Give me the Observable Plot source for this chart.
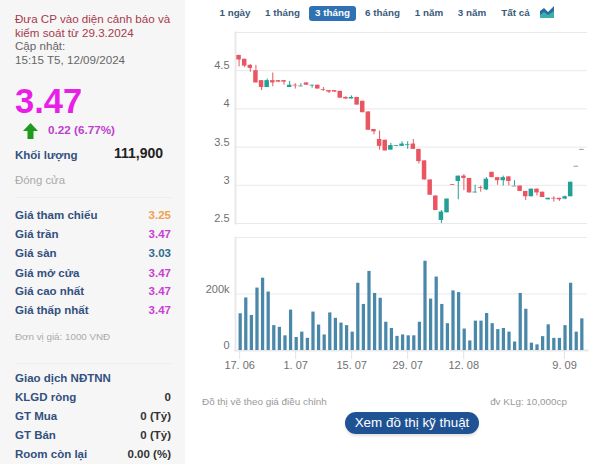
<!DOCTYPE html>
<html><head><meta charset="utf-8">
<script src="https://cdn.jsdelivr.net/npm/d3@7"></script>
<script src="https://cdn.jsdelivr.net/npm/@observablehq/plot@0.6"></script>
<style>
html,body{margin:0;padding:0;background:#fff;width:600px;height:471px;overflow:hidden;font-family:"Liberation Sans",Arial,sans-serif}
#page{position:relative;width:600px;height:471px}
#page svg.plot,#page>svg{position:absolute;left:0;top:0;background:transparent}
.t{position:absolute;white-space:nowrap;line-height:14px;transform:translateY(-50%)}
.r{transform:translate(-100%,-50%)}
#side{position:absolute;left:0;top:0;width:185px;height:464px;background:#f6f6f6}
.hr{position:absolute;left:15px;width:157px;height:1px;background:#eeeeee}
</style></head><body><div id="page"><div id="side"></div></div>
<script>
const dates=["17. 06","18. 06","19. 06","20. 06","21. 06","24. 06","25. 06","26. 06","27. 06","28. 06",
"1. 07","2. 07","3. 07","4. 07","5. 07","8. 07","9. 07","10. 07","11. 07","12. 07",
"15. 07","16. 07","17. 07","18. 07","19. 07","22. 07","23. 07","24. 07","25. 07","26. 07",
"29. 07","30. 07","31. 07","1. 08","2. 08","5. 08","6. 08","7. 08","8. 08","9. 08",
"12. 08","13. 08","14. 08","15. 08","16. 08","19. 08","20. 08","21. 08","22. 08","23. 08",
"26. 08","27. 08","28. 08","29. 08","30. 08","4. 09","5. 09","6. 09","9. 09","10. 09","11. 09","12. 09"];
const opens=[4.70,4.65,4.57,4.50,4.37,4.28,4.37,4.37,4.37,4.28,4.31,4.30,4.34,4.30,4.31,4.25,4.24,4.24,4.23,4.15,4.13,4.15,4.10,3.96,3.73,3.60,3.59,3.46,3.51,3.51,3.52,3.54,3.47,3.32,3.07,2.86,2.54,2.64,3.01,3.05,3.12,3.09,2.90,2.97,2.94,3.17,3.10,3.06,3.11,2.99,2.99,2.92,2.85,2.95,2.91,2.81,2.83,2.83,2.82,2.85,3.25,3.47];
const closes=[4.64,4.56,4.53,4.34,4.28,4.37,4.34,4.35,4.35,4.31,4.30,4.30,4.31,4.31,4.26,4.24,4.22,4.22,4.14,4.13,4.15,4.05,3.95,3.72,3.70,3.51,3.45,3.52,3.52,3.54,3.53,3.47,3.31,3.07,2.87,2.67,2.65,2.82,3.00,3.12,3.09,2.90,2.91,2.96,3.08,3.10,3.06,3.10,3.05,2.99,2.92,2.85,2.95,2.90,2.84,2.83,2.82,2.81,2.85,3.04,3.25,3.47];
const highs=[4.70,4.65,4.58,4.57,4.37,4.39,4.47,4.37,4.37,4.36,4.33,4.33,4.34,4.31,4.31,4.28,4.24,4.24,4.23,4.16,4.17,4.15,4.10,3.96,3.73,3.71,3.59,3.55,3.52,3.57,3.57,3.60,3.47,3.32,3.07,2.86,2.67,2.82,3.01,3.12,3.14,3.09,3.00,2.99,3.10,3.17,3.10,3.12,3.11,3.06,2.99,2.92,2.95,2.95,2.91,2.83,2.85,2.83,2.86,3.04,3.25,3.47];
const lows=[4.55,4.54,4.48,4.34,4.24,4.28,4.29,4.35,4.31,4.28,4.26,4.29,4.31,4.27,4.26,4.23,4.20,4.22,4.14,4.12,4.13,4.05,3.95,3.72,3.66,3.46,3.45,3.46,3.51,3.51,3.47,3.47,3.28,3.07,2.87,2.67,2.50,2.64,3.00,2.81,2.93,2.90,2.90,2.91,2.93,3.10,3.00,2.99,2.99,2.99,2.92,2.80,2.85,2.86,2.84,2.81,2.78,2.79,2.81,2.85,3.25,3.47];
const volumes=[130,186,124,221,256,207,88,82,52,143,46,65,43,136,90,55,133,114,97,88,65,238,163,280,202,185,100,78,50,55,52,52,100,316,182,260,163,95,211,205,76,34,104,104,131,95,74,78,65,30,202,146,26,20,49,91,43,43,88,238,65,112];
const xTicks=["17. 06","1. 07","15. 07","29. 07","12. 08","9. 09"];
const priceTicks=[2.5,3,3.5,4,4.5];
const volumeTicks=[0,200000];
const ranges=["1 ngày","1 tháng","3 tháng","6 tháng","1 năm","3 năm","Tất cả"];
const rangeCenters=[235,282.5,332.5,382.5,429,472,515.5];
const statLabels=["Giá tham chiếu","Giá trần","Giá sàn","Giá mở cửa","Giá cao nhất","Giá thấp nhất"];
const statValues=["3.25","3.47","3.03","3.47","3.47","3.47"];
const statColors=["#f0a24e","#c93fd2","#2f6c8e","#c93fd2","#c93fd2","#c93fd2"];
const foreignLabels=["KLGD ròng","GT Mua","GT Bán","Room còn lại"];
const foreignValues=["0","0 (Tỷ)","0 (Tỷ)","0.00 (%)"];

const page=document.getElementById("page");
function txt(s,x,y,css,right){const d=document.createElement("div");d.className="t"+(right?" r":"");d.textContent=s;d.style.cssText+=`left:${x}px;top:${y}px;${css||""}`;page.appendChild(d);return d;}

const candles=dates.map((d,i)=>({d,o:opens[i],c:closes[i],h:highs[i],l:lows[i]}));
const vols=dates.map((d,i)=>({d,v:volumes[i]*1000}));
const RED="#ea5562",TEAL="#23a094",GRID="#e9e9e9",LBL="#6f6f6f",F='"Liberation Sans",Arial,sans-serif';
const col=r=>r.c<r.o?RED:TEAL;

const price=Plot.plot({width:600,height:240,marginLeft:235,marginRight:13,marginTop:32,marginBottom:17,
  style:{background:"transparent",fontFamily:F,fontSize:"11px"},
  x:{type:"band",domain:dates,padding:0.2,insetLeft:1.2,insetRight:1.2},
  y:{domain:[2.5,5]},
  marks:[
    Plot.ruleY(priceTicks.concat([5]),{stroke:GRID,strokeWidth:1,strokeOpacity:1}),
    Plot.frame({anchor:"left",stroke:GRID,strokeWidth:2}),
    Plot.axisY({ticks:priceTicks,tickFormat:d=>String(d),tickSize:0,tickPadding:6,dy:-5,color:LBL,label:null,marginLeft:235}),
    Plot.axisX({ticks:[],label:null}),
    Plot.ruleX(candles,{x:"d",y1:"l",y2:"h",stroke:col,strokeWidth:1,dx:-1}),
    Plot.barY(candles.filter(r=>r.o!==r.c),{x:"d",y1:"o",y2:"c",fill:col,dx:-1}),
    Plot.tickY(candles.filter(r=>r.o===r.c),{x:"d",y:"c",stroke:"#9a9a9a",strokeWidth:1,dx:-1})
  ]});
page.appendChild(price);

const volume=Plot.plot({width:600,height:380,marginLeft:235,marginRight:13,marginTop:237,marginBottom:30,
  style:{background:"transparent",fontFamily:F,fontSize:"11px"},
  x:{type:"band",domain:dates,padding:0.42,insetLeft:1.2,insetRight:1.2},
  y:{domain:[0,400000]},
  marks:[
    Plot.ruleY([200000,400000],{stroke:GRID,strokeWidth:1}),
    Plot.frame({anchor:"left",stroke:GRID,strokeWidth:2}),
    Plot.frame({anchor:"bottom",stroke:GRID,strokeWidth:2}),
    Plot.axisY({ticks:volumeTicks,tickFormat:d=>d?d/1000+"k":"0",tickSize:0,tickPadding:6,dy:-5,color:LBL,label:null,marginLeft:235}),
    Plot.axisX({ticks:xTicks,tickSize:9,tickPadding:2,stroke:"#e2e2e2",color:LBL,label:null,dx:-1}),
    Plot.barY(vols,{x:"d",y:"v",fill:"#4a88aa"})
  ]});
page.appendChild(volume);

// side panel
const NAVY="#33507f",LS="11.5px";
txt("Đưa CP vào diện cảnh báo và",15,19,"color:#a83a4c;font-size:11.6px");
txt("kiểm soát từ 29.3.2024",15,33,"color:#a83a4c;font-size:11.6px");
txt("Cập nhật:",15,46,"color:#666;font-size:11.6px");
txt("15:15 T5, 12/09/2024",15,60,"color:#666;font-size:11.6px");
txt("3.47",15,101,"color:#e81fe6;font-size:34.5px;font-weight:bold;line-height:36px");
txt("0.22 (6.77%)",48,130,"color:#c13dd0;font-size:11.7px;font-weight:bold");
txt("Khối lượng",15,155,`color:${NAVY};font-size:${LS};font-weight:bold`);
txt("111,900",163,153,"color:#222;font-size:14px;font-weight:bold",true);
txt("Đóng cửa",15,180,"color:#aaa;font-size:11.4px");
const arrow=document.createElementNS("http://www.w3.org/2000/svg","svg");
arrow.setAttribute("viewBox","0 0 15 16");arrow.setAttribute("width","15");arrow.setAttribute("height","16");
arrow.style.cssText="position:absolute;left:23px;top:123px";
arrow.innerHTML='<path d="M7.5 0L15 8H10.5V16H4.5V8H0Z" fill="#1f9a1f"/>';
page.appendChild(arrow);
[197,363].forEach(y=>{const h=document.createElement("div");h.className="hr";h.style.top=y+"px";page.appendChild(h);});
const statYs=[215,234,253,272.5,291,310];
statLabels.forEach((s,i)=>{txt(s,15,statYs[i],`color:${NAVY};font-size:${LS};font-weight:bold`);txt(statValues[i],171,statYs[i],`color:${statColors[i]};font-size:${LS};font-weight:bold`,true);});
txt("Đơn vị giá: 1000 VNĐ",15,337,"color:#aaa;font-size:9.8px");
txt("Giao dịch NĐTNN",15,378,`color:${NAVY};font-size:${LS};font-weight:bold`);
const fYs=[397,416,435,454];
foreignLabels.forEach((s,i)=>{txt(s,15,fYs[i],`color:${NAVY};font-size:${LS};font-weight:bold`);txt(foreignValues[i],171,fYs[i],`color:#333;font-size:${LS};font-weight:bold`,true);});

// range buttons
const b=document.createElement("div");b.style.cssText="position:absolute;left:309px;top:6px;width:47px;height:15px;background:#2f72b3;border-radius:3px";page.appendChild(b);
ranges.forEach((s,i)=>{const d=txt(s,rangeCenters[i],13,`font-size:9.8px;font-weight:bold;color:${i==2?"#fff":"#3a5a7a"}`);d.style.transform="translate(-50%,-50%)";});
const icon=document.createElementNS("http://www.w3.org/2000/svg","svg");
icon.setAttribute("width","14");icon.setAttribute("height","12");icon.setAttribute("viewBox","0 0 14 12");
icon.style.cssText="position:absolute;left:540px;top:6px";
icon.innerHTML='<path d="M0 5L4 2L8 6L14 0V12H0Z" fill="#2a6aa8"/><path d="M0 9L4 6L8 9L14 5V12H0Z" fill="#39b0a8"/>';
page.appendChild(icon);

// footer
txt("Đồ thị vẽ theo giá điều chỉnh",202,402,"color:#999;font-size:9.9px");
txt("đv KLg: 10,000cp",567,402,"color:#999;font-size:9.9px",true);
const btn=document.createElement("div");
btn.textContent="Xem đồ thị kỹ thuật";
btn.style.cssText="position:absolute;left:345px;top:412px;width:134px;height:22px;line-height:22px;border-radius:11px;background:#1f5293;color:#fff;font-size:13.4px;text-align:center;box-shadow:0 2px 3px rgba(0,0,0,.12)";
page.appendChild(btn);
</script></body></html>
